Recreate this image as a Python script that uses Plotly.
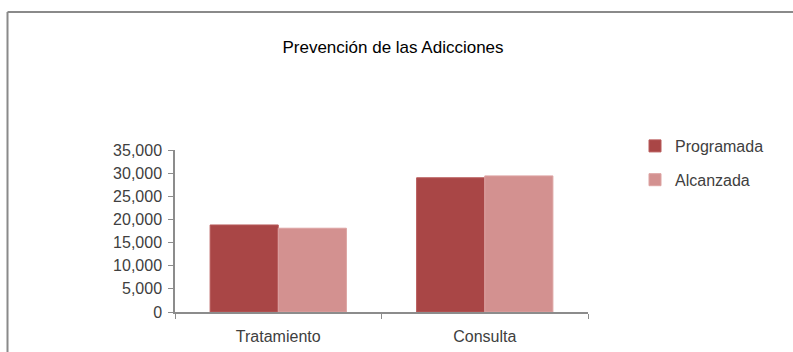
import plotly.graph_objects as go

categories = ["Tratamiento", "Consulta"]
programada = [18800, 29000]
alcanzada = [18100, 29400]
series_names = ["Programada", "Alcanzada"]
tick_vals = [0, 5000, 10000, 15000, 20000, 25000, 30000, 35000]
tick_text = ["0", "5,000", "10,000", "15,000", "20,000", "25,000", "30,000", "35,000"]
title_text = "Prevención de las Adicciones"

FONT = "Liberation Sans, Arial, sans-serif"

fig = go.Figure()
fig.add_trace(go.Bar(x=categories, y=programada, name=series_names[0],
                     marker=dict(color="#A94646", line=dict(color="#B85A5A", width=1)),
                     legendgroup="a"))
fig.add_trace(go.Bar(x=categories, y=alcanzada, name=series_names[1],
                     marker=dict(color="#D39190", line=dict(color="#DDA3A2", width=1)),
                     legendgroup="b"))

fig.update_layout(
    width=793, height=352,
    margin=dict(l=175, r=205, t=150, b=40, pad=0, autoexpand=False),
    paper_bgcolor="white", plot_bgcolor="white",
    barmode="group", bargap=0.34, bargroupgap=0,
    font=dict(family=FONT, size=16, color="#404040"),
    title=dict(text=title_text, x=393/793, xref="container", xanchor="center",
               y=1 - 47/352, yref="container", yanchor="middle",
               font=dict(family=FONT, size=17, color="black")),
    showlegend=True,
    legend=dict(x=1.155 - 17/413, xanchor="left", y=(312-129)/162, yanchor="top",
                font=dict(family=FONT, size=16, color="#404040"),
                tracegroupgap=10, traceorder="grouped",
                itemwidth=30, bgcolor="rgba(0,0,0,0)"),
    xaxis=dict(showline=True, linecolor="#8c8c8c", linewidth=1.5,
               ticks="outside", tickson="boundaries", ticklen=5, tickcolor="#8c8c8c",
               showgrid=False, zeroline=False, ticklabelstandoff=9, automargin=False,
               tickfont=dict(family=FONT, size=16, color="#404040")),
    yaxis=dict(range=[0, 35000], tickvals=tick_vals, ticktext=tick_text,
               showline=True, linecolor="#8c8c8c", linewidth=1.5,
               ticks="outside", ticklen=5, tickcolor="#8c8c8c", automargin=False,
               showgrid=False, zeroline=False, ticklabelstandoff=3,
               tickfont=dict(family=FONT, size=16, color="#404040")),
    shapes=[
        dict(type="line", xref="paper", yref="paper",
             x0=(7.5-175)/413, x1=(7.5-175)/413, y0=(312-12)/162, y1=(312-400)/162,
             line=dict(color="#8a8a8a", width=2)),
        dict(type="line", xref="paper", yref="paper",
             x0=(7.5-175)/413, x1=(900-175)/413, y0=(312-12)/162, y1=(312-12)/162,
             line=dict(color="#8a8a8a", width=2)),
    ],
)

fig.write_html("out.html", config={"displayModeBar": False},
               post_script="document.body.style.margin='0';")
